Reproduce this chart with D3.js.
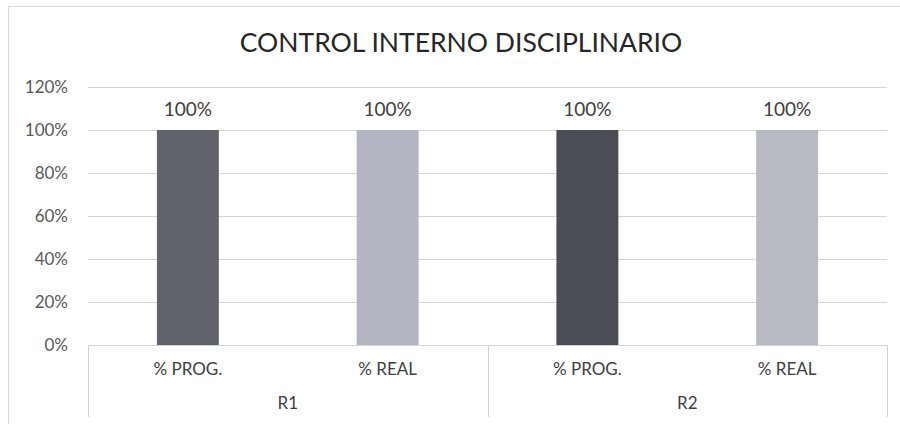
<!DOCTYPE html>
<html>
<head>
<meta charset="utf-8">
<script src="https://cdn.jsdelivr.net/npm/d3@7"></script>
<style>
  html, body { margin: 0; padding: 0; background: #fff; }
  svg { display: block; font-family: Lato, "Open Sans", sans-serif; }
</style>
</head>
<body>
<svg id="chart" width="900" height="424"></svg>
<script>
// ---- data ----
const title = "CONTROL INTERNO DISCIPLINARIO";
const groups = ["R1", "R2"];
const categories = ["% PROG.", "% REAL"];
const values = [1.00, 1.00, 1.00, 1.00]; // R1 PROG, R1 REAL, R2 PROG, R2 REAL
const barColors = ["#62626d", "#b4b4c2", "#4b4c55", "#b9b9c3"];
const yTicks = [0, 0.2, 0.4, 0.6, 0.8, 1.0, 1.2];

// ---- layout ----
const svg = d3.select("#chart");
const plot = { left: 88, right: 887, top: 87, bottom: 345 };

const keys = [];
groups.forEach(g => categories.forEach(c => keys.push(g + "|" + c)));
const rows = keys.map((k, i) => ({ key: k, group: k.split("|")[0], cat: k.split("|")[1], value: values[i], color: barColors[i] }));

const x = d3.scaleBand().domain(keys).range([plot.left, plot.right]).padding(0);
const xg = d3.scaleBand().domain(groups).range([plot.left, plot.right]).padding(0);
const y = d3.scaleLinear().domain([0, 1.2]).range([plot.bottom, plot.top]);

// outer chart frame
svg.append("rect").attr("x", 8.5).attr("y", 6.5).attr("width", 900).attr("height", 440)
  .attr("fill", "none").attr("stroke", "#d9d9d9").attr("stroke-width", 1);

// title
svg.append("text").attr("x", 461).attr("y", 52).attr("text-anchor", "middle")
  .attr("font-size", 26.5).attr("fill", "#262626").text(title);

// gridlines + y axis labels
const yAxis = d3.axisLeft(y).tickValues(yTicks).tickFormat(d3.format(".0%")).tickSize(0).tickPadding(20);
const ga = svg.append("g").attr("transform", `translate(${plot.left},0)`).call(yAxis);
ga.select(".domain").remove();
ga.selectAll("text").attr("font-size", 17).attr("fill", "#595959").attr("font-family", "Lato, sans-serif");

svg.append("g").selectAll("line").data(yTicks).join("line")
  .attr("x1", plot.left).attr("x2", plot.right)
  .attr("y1", d => Math.round(y(d)) + 0.5).attr("y2", d => Math.round(y(d)) + 0.5)
  .attr("stroke", "#d4d4d4").attr("stroke-width", 1);

// bars
const barW = x.bandwidth() * 0.31;
svg.append("g").selectAll("rect").data(rows).join("rect")
  .attr("x", d => x(d.key) + (x.bandwidth() - barW) / 2)
  .attr("width", barW)
  .attr("y", d => y(d.value))
  .attr("height", d => y(0) - y(d.value))
  .attr("fill", d => d.color);

// data labels
svg.append("g").selectAll("text").data(rows).join("text")
  .attr("x", d => x(d.key) + x.bandwidth() / 2)
  .attr("y", d => y(d.value) - 14)
  .attr("text-anchor", "middle").attr("font-size", 19).attr("fill", "#404040")
  .text(d => d3.format(".0%")(d.value));

// multi-level category axis
const axisBottom = 417;
svg.append("g").selectAll("line").data([...groups.map(g => xg(g)), plot.right]).join("line")
  .attr("x1", d => Math.round(d) + 0.5).attr("x2", d => Math.round(d) + 0.5)
  .attr("y1", plot.bottom).attr("y2", axisBottom)
  .attr("stroke", "#d4d4d4").attr("stroke-width", 1);

svg.append("g").selectAll("text").data(rows).join("text")
  .attr("x", d => x(d.key) + x.bandwidth() / 2)
  .attr("y", 375)
  .attr("text-anchor", "middle").attr("font-size", 17).attr("fill", "#404040")
  .text(d => d.cat);

svg.append("g").selectAll("text").data(groups).join("text")
  .attr("x", d => xg(d) + xg.bandwidth() / 2)
  .attr("y", 409)
  .attr("text-anchor", "middle").attr("font-size", 17).attr("fill", "#404040")
  .text(d => d);
</script>
</body>
</html>
